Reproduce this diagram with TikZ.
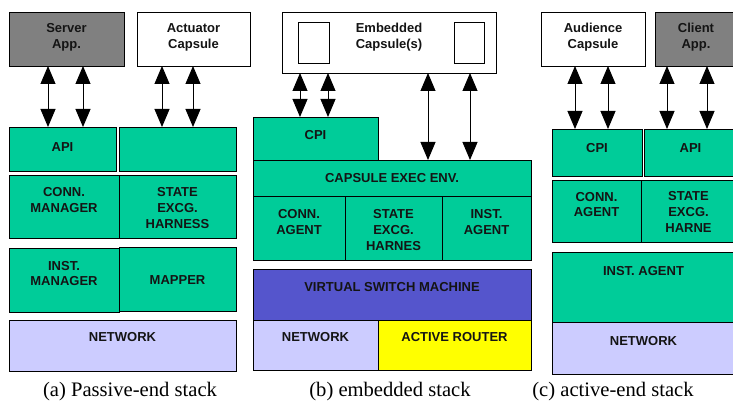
\documentclass[tikz,border=0pt]{standalone}
\usepackage{fontspec}
\setmainfont{Liberation Serif}
\setsansfont{Liberation Sans}
\usetikzlibrary{arrows.meta}
\definecolor{grn}{HTML}{00CC99}
\definecolor{gry}{HTML}{808080}
\definecolor{lav}{HTML}{CCCCFF}
\definecolor{vsm}{HTML}{5555CC}
\definecolor{ylw}{HTML}{FFFF00}
\tikzset{
  box/.style={draw=black,line width=0.8pt,inner sep=0pt,outer sep=0pt},
  lbl/.style={font=\sffamily\bfseries\fontsize{13}{15.8}\selectfont,align=center,inner sep=0pt,text=black!92},
  captxt/.style={font=\rmfamily\fontsize{20.6}{22}\selectfont,inner sep=0pt},
  dar/.style={line width=0.9pt,{Triangle[length=18pt,width=15pt]}-{Triangle[length=18pt,width=15pt]}},
}
\newcommand\bx[8]{%
  \node[box,fill=#6,minimum width={(#4-#2)*1pt},minimum height={(#5-#3)*1pt}] (#1) at ({(#2+#4)/2},{(#3+#5)/2}) {};
  \node[lbl] (#1t) at ({(#2+#4)/2},#8) {#7};
}
\begin{document}
\begin{tikzpicture}[x=1pt,y=-1pt]
\useasboundingbox[fill=white] (0,0) rectangle (733,403);
% ---------- (a) ----------
\bx{srv}{9}{12}{124}{66}{gry}{Server\\App.}{37}
\bx{act}{137}{12}{250}{66}{white}{Actuator\\Capsule}{37}
\bx{apia}{9}{127}{116}{171}{grn}{API}{147}
\bx{blka}{119}{127}{236}{171}{grn}{}{149}
\bx{cma}{9}{175}{119}{238}{grn}{CONN.\\MANAGER}{200}
\bx{sea}{119}{175}{236}{238}{grn}{STATE\\EXCG.\\HARNESS}{208}
\bx{ima}{9}{248}{119}{312}{grn}{INST.\\MANAGER}{273.5}
\bx{mpa}{119}{247}{236}{311}{grn}{MAPPER}{280}
\bx{neta}{9}{320}{236}{371}{lav}{NETWORK}{337}
\node[captxt] (capa) at (130,392) {(a) Passive-end stack};
\draw[dar] (48,0 |- srv.south) -- (48,0 |- apia.north);
\draw[dar] (83,0 |- srv.south) -- (83,0 |- apia.north);
\draw[dar] (162,0 |- act.south) -- (162,0 |- blka.north);
\draw[dar] (193,0 |- act.south) -- (193,0 |- blka.north);
% ---------- (b) ----------
\bx{emb}{282}{12}{496}{73}{white}{Embedded\\Capsule(s)}{37.5}
\bx{eml}{298}{22}{329}{63}{white}{}{42}
\bx{emr}{454}{22}{484}{63}{white}{}{42}
\bx{cpib}{253}{117}{378}{160}{grn}{CPI}{135}
\bx{ceeb}{253}{160}{531}{196}{grn}{CAPSULE EXEC ENV.}{178}
\bx{cab}{253}{196}{345}{260}{grn}{CONN.\\AGENT}{222}
\bx{seb}{345}{196}{442}{260}{grn}{STATE\\EXCG.\\HARNES}{230}
\bx{iab}{442}{196}{531}{260}{grn}{INST.\\AGENT}{222}
\bx{vsmb}{253}{269}{531}{320}{vsm}{VIRTUAL SWITCH MACHINE}{287}
\bx{netb}{253}{320}{378}{370}{lav}{NETWORK}{337}
\bx{arb}{378}{320}{531}{370}{ylw}{ACTIVE ROUTER}{337}
\node[captxt] (capb) at (390,392) {(b) embedded stack};
\draw[dar] (300,0 |- emb.south) -- (300,0 |- cpib.north);
\draw[dar] (328,0 |- emb.south) -- (328,0 |- cpib.north);
\draw[dar] (428,0 |- emb.south) -- (428,0 |- ceeb.north);
\draw[dar] (470,0 |- emb.south) -- (470,0 |- ceeb.north);
% ---------- (c) ----------
\bx{aud}{541}{12}{645}{66}{white}{Audience\\Capsule}{37}
\bx{cli}{655}{12}{737}{66}{gry}{Client\\App.}{37}
\bx{cpic}{552}{129}{642}{176}{grn}{CPI}{148}
\bx{apic}{644}{129}{737}{176}{grn}{API}{148}
\bx{cac}{552}{180}{641}{242}{grn}{CONN.\\AGENT}{204.5}
\bx{sec}{641}{180}{736}{242}{grn}{STATE\\EXCG.\\HARNE}{212}
\bx{iac}{552}{252}{735}{322}{grn}{INST. AGENT}{271}
\bx{netc}{552}{322}{735}{374}{lav}{NETWORK}{341}
\node[captxt] (capc) at (613,392) {(c) active-end stack};
\draw[dar] (575,0 |- aud.south) -- (575,0 |- cpic.north);
\draw[dar] (608,0 |- aud.south) -- (608,0 |- cpic.north);
\draw[dar] (667,0 |- cli.south) -- (667,0 |- apic.north);
\draw[dar] (707,0 |- cli.south) -- (707,0 |- apic.north);
\end{tikzpicture}
\end{document}
